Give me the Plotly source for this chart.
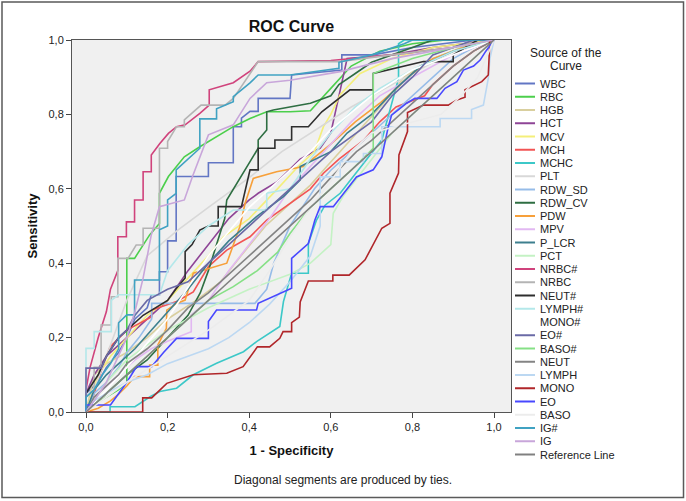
import plotly.graph_objects as go

# ---------------- data (FPR, TPR) ----------------
WBC = [(0,0),(0,0.05),(0.03,0.08),(0.05,0.12),(0.08,0.16),(0.1,0.2),(0.12,0.25),(0.15,0.28),(0.16,0.315),(0.18,0.315),(0.18,0.377),(0.2,0.377),(0.2,0.46),(0.221,0.46),(0.221,0.633),(0.3,0.633),(0.3,0.67),(0.361,0.67),(0.361,0.767),(0.381,0.767),(0.381,0.79),(0.402,0.808),(0.422,0.808),(0.422,0.843),(0.5,0.843),(0.504,0.906),(0.627,0.919),(0.627,0.96),(0.704,0.96),(0.8,0.98),(0.95,1),(1,1)]
RBC = [(0,0),(0.02,0.02),(0.05,0.04),(0.08,0.06),(0.1,0.08),(0.1,0.413),(0.119,0.413),(0.156,0.476),(0.18,0.507),(0.18,0.588),(0.202,0.633),(0.241,0.686),(0.279,0.713),(0.32,0.74),(0.361,0.767),(0.402,0.789),(0.443,0.807),(0.5,0.807),(0.55,0.81),(0.6,0.87),(0.65,0.93),(0.72,0.97),(0.8,0.99),(0.88,1),(1,1)]
HGB = [(0,0),(0.02,0.1),(0.05,0.13),(0.1,0.16),(0.15,0.2),(0.2,0.25),(0.27,0.3),(0.33,0.35),(0.38,0.42),(0.44,0.5),(0.5,0.56),(0.55,0.61),(0.59,0.66),(0.655,0.74),(0.729,0.83),(0.78,0.9),(0.85,0.95),(0.92,0.98),(1,1)]
HCT = [(0,0),(0,0.05),(0.02,0.1),(0.05,0.15),(0.1,0.2),(0.15,0.25),(0.2,0.3),(0.25,0.38),(0.3,0.45),(0.35,0.52),(0.4,0.57),(0.422,0.588),(0.47,0.62),(0.525,0.68),(0.574,0.709),(0.6,0.75),(0.62,0.85),(0.64,0.95),(0.75,0.96),(0.85,0.98),(1,1)]
MCV = [(0,0),(0.03,0.1),(0.06,0.15),(0.1,0.2),(0.15,0.26),(0.2,0.3),(0.25,0.36),(0.3,0.42),(0.337,0.471),(0.4,0.52),(0.467,0.597),(0.52,0.66),(0.56,0.7),(0.582,0.767),(0.6,0.8),(0.623,0.853),(0.672,0.91),(0.75,0.95),(0.85,0.98),(1,1)]
MCH = [(0,0),(0.02,0.05),(0.04,0.12),(0.059,0.175),(0.1,0.22),(0.161,0.256),(0.161,0.274),(0.222,0.297),(0.263,0.323),(0.3,0.391),(0.345,0.435),(0.402,0.471),(0.443,0.516),(0.5,0.56),(0.55,0.6),(0.582,0.642),(0.62,0.68),(0.68,0.73),(0.72,0.78),(0.76,0.82),(0.83,0.85),(0.85,0.88),(0.9,0.93),(0.95,0.97),(1,1)]
MCHC = [(0,0),(0.059,0),(0.059,0.014),(0.12,0.014),(0.157,0.041),(0.181,0.055),(0.222,0.064),(0.263,0.1),(0.32,0.131),(0.386,0.162),(0.418,0.189),(0.475,0.23),(0.484,0.297),(0.504,0.373),(0.545,0.373),(0.545,0.453),(0.565,0.516),(0.586,0.556),(0.623,0.588),(0.68,0.668),(0.725,0.731),(0.745,0.812),(0.766,0.897),(0.766,0.99),(0.78,1),(1,1)]
PLT = [(0,0),(0.05,0.15),(0.1,0.3),(0.15,0.42),(0.225,0.489),(0.3,0.55),(0.4,0.63),(0.48,0.7),(0.55,0.75),(0.65,0.82),(0.75,0.88),(0.85,0.94),(1,1)]
RDW_SD = [(0,0),(0.02,0.05),(0.05,0.08),(0.08,0.12),(0.1,0.16),(0.13,0.2),(0.161,0.25),(0.161,0.292),(0.414,0.292),(0.443,0.33),(0.46,0.4),(0.48,0.45),(0.5,0.5),(0.53,0.55),(0.56,0.6),(0.6,0.65),(0.65,0.7),(0.7,0.75),(0.75,0.8),(0.8,0.85),(0.85,0.9),(0.9,0.95),(0.95,0.98),(1,1)]
RDW_CV = [(0,0),(0.03,0.03),(0.06,0.06),(0.1,0.1),(0.15,0.14),(0.2,0.2),(0.25,0.26),(0.28,0.32),(0.3,0.38),(0.32,0.45),(0.34,0.52),(0.345,0.57),(0.381,0.633),(0.402,0.673),(0.422,0.709),(0.422,0.731),(0.443,0.758),(0.443,0.807),(0.459,0.812),(0.5,0.821),(0.55,0.83),(0.6,0.85),(0.62,0.88),(0.66,0.91),(0.7,0.94),(0.8,0.98),(0.85,1),(1,1)]
PDW = [(0,0),(0.03,0.01),(0.06,0.03),(0.078,0.046),(0.1,0.07),(0.119,0.095),(0.156,0.095),(0.156,0.126),(0.176,0.126),(0.176,0.18),(0.197,0.225),(0.198,0.274),(0.222,0.292),(0.243,0.301),(0.263,0.373),(0.345,0.4),(0.377,0.498),(0.39,0.561),(0.41,0.628),(0.467,0.646),(0.533,0.66),(0.6,0.72),(0.66,0.78),(0.72,0.83),(0.761,0.87),(0.8,0.91),(0.85,0.95),(0.9,0.97),(0.95,0.99),(1,1)]
MPV = [(0,0),(0.03,0.05),(0.08,0.1),(0.12,0.14),(0.16,0.17),(0.2,0.19),(0.258,0.216),(0.258,0.261),(0.3,0.3),(0.35,0.38),(0.4,0.45),(0.45,0.52),(0.5,0.6),(0.55,0.66),(0.6,0.72),(0.65,0.78),(0.72,0.85),(0.8,0.9),(0.9,0.96),(1,1)]
P_LCR = [(0,0),(0.02,0.06),(0.05,0.1),(0.08,0.13),(0.12,0.17),(0.16,0.22),(0.2,0.27),(0.25,0.33),(0.3,0.4),(0.35,0.46),(0.418,0.525),(0.484,0.579),(0.525,0.624),(0.525,0.66),(0.6,0.7),(0.64,0.75),(0.7,0.8),(0.76,0.87),(0.82,0.93),(0.9,0.97),(1,1)]
PCT = [(0,0),(0.05,0.08),(0.1,0.14),(0.2,0.22),(0.3,0.28),(0.4,0.33),(0.5,0.37),(0.55,0.4),(0.6,0.45),(0.606,0.534),(0.63,0.58),(0.68,0.65),(0.75,0.75),(0.85,0.85),(0.95,0.95),(1,1)]
NRBC_abs = [(0,0),(0,0.06),(0.01,0.12),(0.03,0.2),(0.05,0.27),(0.06,0.33),(0.078,0.38),(0.078,0.471),(0.099,0.471),(0.099,0.511),(0.119,0.511),(0.119,0.57),(0.14,0.57),(0.14,0.646),(0.16,0.646),(0.16,0.691),(0.181,0.722),(0.202,0.749),(0.222,0.767),(0.243,0.772),(0.279,0.803),(0.302,0.825),(0.302,0.866),(0.341,0.879),(0.361,0.885),(0.402,0.916),(0.422,0.942),(0.6,0.945),(0.75,0.96),(0.9,0.98),(0.96,1),(1,1)]
NRBC = [(0,0),(0,0.04),(0.02,0.06),(0.02,0.12),(0.037,0.12),(0.037,0.234),(0.062,0.234),(0.062,0.31),(0.078,0.31),(0.078,0.413),(0.103,0.413),(0.123,0.449),(0.14,0.449),(0.14,0.494),(0.18,0.494),(0.18,0.709),(0.2,0.709),(0.2,0.727),(0.222,0.767),(0.241,0.767),(0.241,0.785),(0.282,0.825),(0.341,0.825),(0.361,0.843),(0.422,0.942),(0.62,0.942),(0.75,0.96),(0.9,0.98),(0.96,1),(1,1)]
NEUT_abs = [(0,0),(0,0.05),(0.03,0.1),(0.05,0.15),(0.08,0.2),(0.1,0.22),(0.12,0.238),(0.14,0.26),(0.161,0.274),(0.2,0.3),(0.22,0.33),(0.243,0.36),(0.243,0.431),(0.26,0.45),(0.279,0.489),(0.3,0.5),(0.324,0.5),(0.324,0.552),(0.381,0.552),(0.402,0.651),(0.422,0.651),(0.422,0.709),(0.463,0.709),(0.463,0.731),(0.504,0.731),(0.504,0.767),(0.545,0.767),(0.578,0.807),(0.647,0.866),(0.704,0.866),(0.704,0.91),(0.827,0.942),(0.9,0.942),(0.9,0.96),(0.96,1),(1,1)]
LYMPH_abs = [(0,0),(0,0.171),(0.02,0.171),(0.02,0.216),(0.062,0.216),(0.062,0.3),(0.08,0.315),(0.18,0.315),(0.2,0.38),(0.25,0.45),(0.3,0.5),(0.361,0.543),(0.443,0.543),(0.443,0.588),(0.5,0.6),(0.55,0.68),(0.6,0.75),(0.66,0.82),(0.72,0.87),(0.8,0.92),(0.9,0.97),(1,1)]
MONO_abs = [(0,0),(0.1,0.12),(0.2,0.25),(0.3,0.42),(0.4,0.55),(0.45,0.6),(0.5,0.65),(0.55,0.7),(0.6,0.76),(0.7,0.85),(0.8,0.92),(1,1)]
EO_abs = [(0,0),(0,0.118),(0.037,0.118),(0.05,0.15),(0.08,0.2),(0.1,0.22),(0.12,0.26),(0.15,0.3),(0.2,0.33),(0.25,0.35),(0.3,0.4),(0.35,0.45),(0.4,0.5),(0.45,0.55),(0.5,0.6),(0.55,0.65),(0.6,0.7),(0.7,0.78),(0.75,0.85),(0.8,0.9),(0.85,0.96),(0.95,1),(1,1)]
BASO_abs = [(0,0),(0.05,0.05),(0.1,0.1),(0.15,0.15),(0.2,0.2),(0.25,0.25),(0.3,0.3),(0.361,0.337),(0.42,0.38),(0.47,0.43),(0.5,0.48),(0.55,0.55),(0.6,0.6),(0.65,0.65),(0.704,0.709),(0.704,0.91),(0.8,0.95),(0.9,0.98),(1,1)]
NEUT = [(0,0),(0.02,0.04),(0.05,0.07),(0.08,0.1),(0.1,0.13),(0.15,0.17),(0.2,0.22),(0.25,0.28),(0.3,0.32),(0.35,0.37),(0.4,0.42),(0.45,0.47),(0.5,0.52),(0.55,0.57),(0.6,0.63),(0.663,0.7),(0.7,0.73),(0.75,0.78),(0.8,0.83),(0.85,0.88),(0.9,0.93),(0.95,0.97),(1,1)]
LYMPH = [(0,0),(0.02,0.03),(0.05,0.05),(0.1,0.08),(0.15,0.1),(0.2,0.13),(0.25,0.15),(0.3,0.17),(0.35,0.2),(0.4,0.24),(0.45,0.29),(0.5,0.35),(0.55,0.42),(0.574,0.5),(0.574,0.632),(0.623,0.632),(0.623,0.673),(0.68,0.673),(0.68,0.695),(0.725,0.695),(0.725,0.767),(0.868,0.767),(0.868,0.789),(0.945,0.789),(0.945,0.813),(0.974,0.825),(0.986,0.897),(0.99,0.95),(1,1)]
MONO = [(0,0),(0.139,0),(0.139,0.038),(0.161,0.038),(0.198,0.077),(0.22,0.085),(0.263,0.1),(0.345,0.104),(0.385,0.122),(0.42,0.175),(0.45,0.175),(0.475,0.198),(0.483,0.216),(0.504,0.216),(0.504,0.24),(0.523,0.255),(0.525,0.296),(0.545,0.352),(0.605,0.352),(0.605,0.368),(0.645,0.368),(0.684,0.409),(0.725,0.494),(0.745,0.507),(0.745,0.588),(0.766,0.642),(0.767,0.691),(0.788,0.754),(0.788,0.805),(0.827,0.825),(0.888,0.825),(0.909,0.839),(0.929,0.846),(0.929,0.866),(0.97,0.888),(0.986,0.906),(0.99,1),(1,1)]
EO = [(0,0),(0,0.019),(0.06,0.019),(0.08,0.05),(0.1,0.08),(0.124,0.122),(0.161,0.122),(0.19,0.16),(0.222,0.198),(0.3,0.198),(0.3,0.243),(0.32,0.274),(0.418,0.274),(0.422,0.292),(0.459,0.31),(0.504,0.333),(0.504,0.413),(0.545,0.453),(0.561,0.516),(0.574,0.552),(0.606,0.552),(0.663,0.632),(0.704,0.651),(0.725,0.686),(0.741,0.767),(0.749,0.798),(0.786,0.83),(0.806,0.843),(0.86,0.843),(0.88,0.87),(0.909,0.888),(0.925,0.919),(0.95,0.93),(0.966,0.946),(0.98,0.97),(1,1)]
BASO = [(0,0),(0.05,0.04),(0.1,0.08),(0.2,0.15),(0.3,0.22),(0.4,0.3),(0.45,0.38),(0.5,0.47),(0.55,0.55),(0.6,0.62),(0.65,0.7),(0.7,0.75),(0.8,0.78),(0.87,0.8),(0.92,0.85),(0.96,0.9),(1,1)]
IG_abs = [(0,0),(0,0.04),(0.02,0.06),(0.04,0.1),(0.06,0.13),(0.08,0.17),(0.08,0.24),(0.1,0.261),(0.119,0.261),(0.119,0.355),(0.18,0.355),(0.18,0.49),(0.2,0.5),(0.2,0.57),(0.221,0.588),(0.221,0.651),(0.279,0.709),(0.279,0.788),(0.32,0.788),(0.32,0.815),(0.361,0.834),(0.361,0.848),(0.402,0.885),(0.422,0.906),(0.5,0.906),(0.62,0.924),(0.62,0.94),(0.7,0.96),(0.78,0.99),(0.8,1),(1,1)]
IG = [(0,0),(0.02,0.03),(0.05,0.08),(0.08,0.15),(0.1,0.2),(0.12,0.27),(0.14,0.36),(0.16,0.476),(0.18,0.552),(0.241,0.57),(0.261,0.633),(0.3,0.745),(0.361,0.772),(0.402,0.843),(0.443,0.885),(0.5,0.892),(0.623,0.915),(0.75,0.95),(0.9,0.98),(1,1)]
REFERENCE = [(0,0),(1,1)]

series_names = ["WBC","RBC","HGB","HCT","MCV","MCH","MCHC","PLT","RDW_SD","RDW_CV","PDW","MPV",
                "P_LCR","PCT","NRBC#","NRBC","NEUT#","LYMPH#","MONO#","EO#","BASO#","NEUT","LYMPH",
                "MONO","EO","BASO","IG#","IG","Reference Line"]
series_data = [WBC,RBC,HGB,HCT,MCV,MCH,MCHC,PLT,RDW_SD,RDW_CV,PDW,MPV,P_LCR,PCT,NRBC_abs,NRBC,
               NEUT_abs,LYMPH_abs,MONO_abs,EO_abs,BASO_abs,NEUT,LYMPH,MONO,EO,BASO,IG_abs,IG,REFERENCE]
series_colors = ["#6276c4","#4ccf4c","#d9cf9e","#8e4496","#f4ef7a","#f25454","#3cc8c8","#d8d8d8",
                 "#96bce8","#2e6e42","#f7a03a","#e2b8f2","#3d7f8e","#c4f2c4","#d0437c","#b4b4b4",
                 "#2e2e2e","#b4e8ea","#ffffff","#6a6aa6","#86e086","#848484","#bcd8f2","#b0262a",
                 "#4848ff","#ececec","#40a2c2","#c8a6da","#808080"]

tick_vals = [0, 0.2, 0.4, 0.6, 0.8, 1.0]
tick_text = ["0,0", "0,2", "0,4", "0,6", "0,8", "1,0"]

# ---------------- figure ----------------
W, H = 686, 501
L, R, T, B = 72, 511, 40, 412          # plot area in pixels
FONT = "Liberation Sans, Arial, sans-serif"

fig = go.Figure()
for name, pts, col in zip(series_names, series_data, series_colors):
    fig.add_trace(go.Scatter(
        x=[p[0] for p in pts], y=[p[1] for p in pts], mode="lines", name=name,
        line=dict(color=col, width=1.6), showlegend=False, hoverinfo="name"))

def px_x(px):
    return (px - L) / (R - L)

def px_y(py):
    return (B - py) / (B - T)

shapes = []
annotations = []
# outer border
shapes.append(dict(type="rect", xref="paper", yref="paper",
                   x0=px_x(2), x1=px_x(683.5), y0=px_y(497.5), y1=px_y(2),
                   line=dict(color="#5a5a5a", width=1.5), fillcolor="rgba(0,0,0,0)", layer="below"))
# manual legend
legend_top = 83.5
legend_step = 13.25
for i, (name, col) in enumerate(zip(series_names, series_colors)):
    yy = px_y(legend_top + legend_step * i)
    shapes.append(dict(type="line", xref="paper", yref="paper",
                       x0=px_x(515), x1=px_x(535), y0=yy, y1=yy,
                       line=dict(color=col, width=2)))
    annotations.append(dict(xref="paper", yref="paper", x=px_x(538), y=yy, text=name,
                            showarrow=False, xanchor="left", yanchor="middle",
                            font=dict(family=FONT, size=11, color="#222222")))
annotations.append(dict(xref="paper", yref="paper", x=px_x(566), y=px_y(53), text="Source of the",
                        showarrow=False, xanchor="center", yanchor="middle",
                        font=dict(family=FONT, size=12, color="#222222")))
annotations.append(dict(xref="paper", yref="paper", x=px_x(566), y=px_y(66), text="Curve",
                        showarrow=False, xanchor="center", yanchor="middle",
                        font=dict(family=FONT, size=12, color="#222222")))
annotations.append(dict(xref="paper", yref="paper", x=px_x(343), y=px_y(480),
                        text="Diagonal segments are produced by ties.",
                        showarrow=False, xanchor="center", yanchor="middle",
                        font=dict(family=FONT, size=12, color="#222222")))

fig.update_layout(
    width=W, height=H,
    margin=dict(l=L, r=W - R, t=T, b=H - B, pad=0),
    paper_bgcolor="white", plot_bgcolor="#f0f0f0",
    title=dict(text="<b>ROC Curve</b>", x=(L + R) / 2 / W, xanchor="center",
               y=1 - 26 / H, yanchor="middle", yref="container",
               font=dict(family=FONT, size=16, color="#111111")),
    shapes=shapes, annotations=annotations, showlegend=False,
    xaxis=dict(range=[(L - 86) / 408, (R - 86) / 408], tickvals=tick_vals, ticktext=tick_text,
               ticks="outside", ticklen=5, tickcolor="#444444", showgrid=False, zeroline=False,
               showline=True, linecolor="#555555", linewidth=1, mirror=True,
               tickfont=dict(family=FONT, size=11, color="#222222"),
               title=dict(text="<b>1 - Specificity</b>", standoff=13,
                          font=dict(family=FONT, size=13, color="#111111"))),
    yaxis=dict(range=[0, 1], tickvals=tick_vals, ticktext=tick_text,
               ticks="outside", ticklen=5, tickcolor="#444444", showgrid=False, zeroline=False,
               showline=True, linecolor="#555555", linewidth=1, mirror=True,
               tickfont=dict(family=FONT, size=11, color="#222222"),
               title=dict(text="<b>Sensitivity</b>", standoff=7,
                          font=dict(family=FONT, size=13, color="#111111"))),
)

fig.write_html("out.html", config={"displayModeBar": False},
               post_script="document.body.style.margin='0';")
